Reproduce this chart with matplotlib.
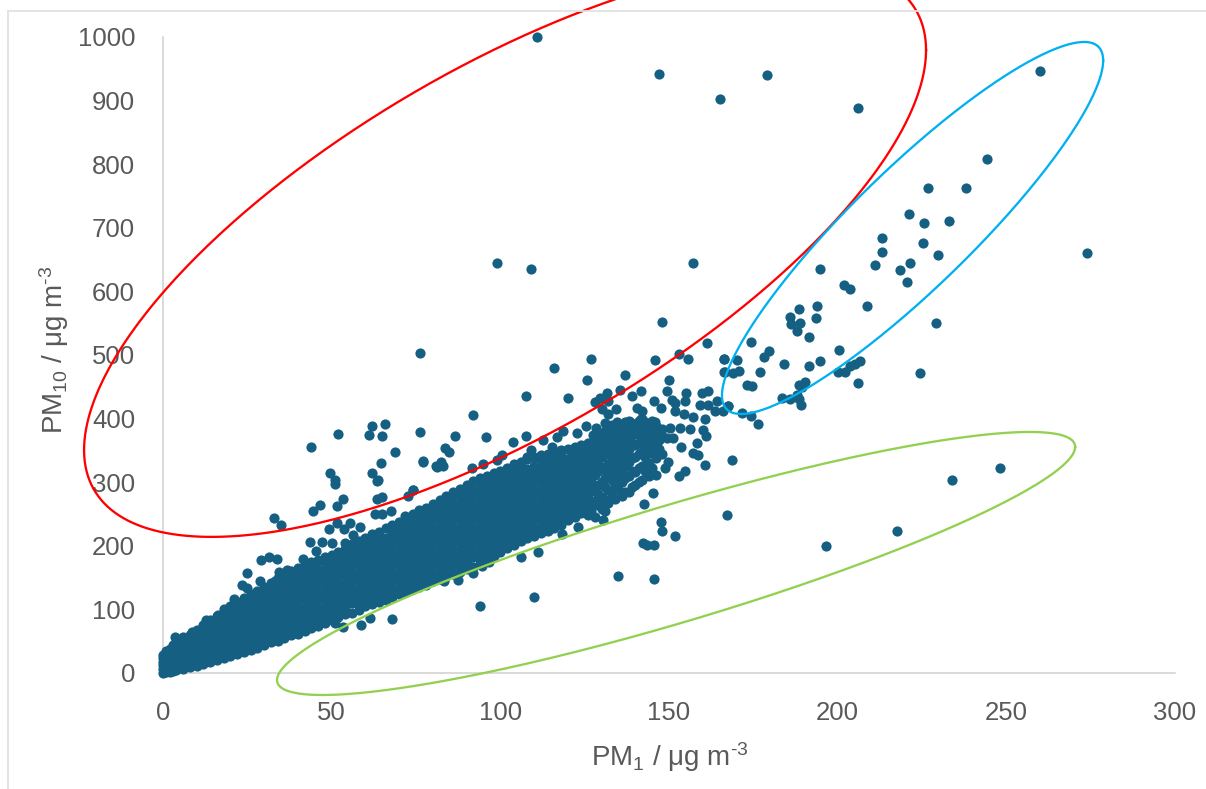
import numpy as np
import matplotlib
matplotlib.use("Agg")
import matplotlib.pyplot as plt
from matplotlib.lines import Line2D

plt.rcParams['font.family'] = ['Liberation Sans', 'DejaVu Sans']
plt.rcParams['mathtext.fontset'] = 'custom'
plt.rcParams['mathtext.rm'] = 'Liberation Sans'
plt.rcParams['mathtext.default'] = 'regular'

# Dense core of the cloud, read column by column: PM1 value -> PM10 values
core = {
0:[0,6,12,18,24,28],1:[1,8,15,22,30,35],2:[2,14,26,38],3:[3,8,20,32,44],4:[4,14,26,38,48],
6:[6,18,30,42,55],8:[9,21,33,45,57,60],10:[11,16,28,40,52,64,68],12:[14,24,36,48,60,72,75],
14:[17,30,42,54,66,78,83],16:[20,25,37,49,61,73,85,90],18:[23,33,45,57,69,81,93,100],
20:[26,39,51,63,75,87,99,106],22:[30,35,47,59,71,83,95,107,112],24:[33,43,55,67,79,91,103,115,118],
26:[36,49,61,73,85,97,109,121,124],28:[39,45,57,69,81,93,105,117,129],30:[44,54,66,78,90,102,114,126,136],
32:[48,60,72,84,96,108,120,132,142],34:[51,57,69,81,93,105,117,129,141,150],36:[55,65,77,89,101,113,125,137,149,156],
38:[59,71,83,95,107,119,131,143,155,160],40:[62,68,80,92,104,116,128,140,152,165],42:[66,78,90,102,114,126,138,150,162,170],
44:[70,84,96,108,120,132,144,156,168,174],46:[74,80,92,104,116,128,140,152,164,178],48:[79,90,102,114,126,138,150,162,174,182],
50:[83,96,108,120,132,144,156,168,180,186],52:[88,94,106,118,130,142,154,166,178,190],54:[92,104,116,128,140,152,164,176,188,195],
56:[95,110,122,134,146,158,170,182,194,203],58:[99,108,120,132,144,156,168,180,192,204,208],60:[105,116,128,140,152,164,176,188,200,213],
62:[109,122,134,146,158,170,182,194,206,218],64:[112,120,132,144,156,168,180,192,204,216,222],66:[115,128,140,152,164,176,188,200,212,228],
68:[120,134,146,158,170,182,194,206,218,232],70:[124,132,144,156,168,180,192,204,216,228,238],72:[128,140,152,164,176,188,200,212,224,236,243],
74:[132,146,158,170,182,194,206,218,230,242,250],76:[136,144,156,168,180,192,204,216,228,240,252,256],78:[139,152,164,176,188,200,212,224,236,248,260],
80:[144,158,170,182,194,206,218,230,242,254,266],82:[148,156,168,180,192,204,216,228,240,252,264,272],84:[152,164,176,188,200,212,224,236,248,260,272,278],
86:[155,170,182,194,206,218,230,242,254,266,278,284],88:[159,168,180,192,204,216,228,240,252,264,276,290],90:[163,176,188,200,212,224,236,248,260,272,284,296],
92:[167,182,194,206,218,230,242,254,266,278,290,302],94:[172,180,192,204,216,228,240,252,264,276,288,300,306],96:[177,188,200,212,224,236,248,260,272,284,296,310],
98:[184,194,206,218,230,242,254,266,278,290,302,314],100:[190,200,212,224,236,248,260,272,284,296,308,318],102:[196,206,218,230,242,254,266,278,290,302,314,322],
104:[202,212,224,236,248,260,272,284,296,308,320,328],106:[208,218,230,242,254,266,278,290,302,314,326,332],108:[212,224,236,248,260,272,284,296,308,320,336],
110:[216,230,242,254,266,278,290,302,314,326,340],112:[220,228,240,252,264,276,288,300,312,324,336,342],114:[224,236,248,260,272,284,296,308,320,332,345],
116:[228,242,254,266,278,290,302,314,326,338,348],118:[233,246,258,270,282,294,306,318,330,342,350],120:[240,252,264,276,288,300,312,324,336,352],
122:[246,262,276,290,304,316,330,344,355],124:[252,268,284,298,318,334,350,358],126:[248,262,280,306,326,342,362],
128:[246,270,290,312,332,350,368],130:[258,276,300,320,340,358,375],132:[268,288,310,328,350,368,384],134:[274,296,322,344,360,378],
136:[278,300,316,338,356,372,388],138:[285,310,332,352,368,382,396],140:[296,316,340,358,376,392],142:[303,326,348,366,384,400],
144:[310,330,352,372,390],146:[312,338,360,378,388],148:[345,372,384],
# second pass over the tail of the cloud
121:[246,258,271,283,296,309,322,338,349],123:[256,272,288,302,311,325,340,352],125:[258,275,292,312,328,346,356],
127:[254,268,286,300,320,338,356],129:[264,282,296,318,328,344,362],131:[272,292,306,324,344,354,370,380],
133:[282,304,318,336,356,372,390],135:[290,308,330,350,366,384],137:[284,306,326,346,362,378,394],
139:[292,318,338,360,374,390],141:[300,322,344,362,380,396],143:[318,340,358,376,394],145:[322,346,366,384,396],147:[352,366,380],
}

# Individually readable points
outlier_pm1 = [111,147,179,165,206,260,274,244.3,226.8,238,99,109,157,221,225.6,233,213,213,225.4,229.8,211,221.5,218.5,220.5,194.8,201.9,203.7,208.7,229.2,193.9,188.6,193.6,185.9,188.9,186.2,188,191.5,174.3,161.3,200.4,179.7,178.2,166.3,170.2,194.8,184.1,191.5,206.6,205.2,203.7,202.2,200.1,177,170.8,169,166.3,224.4,206,190.3,188.6,189.4,173.1,174.6,183.5,185.9,188,188.6,189.2,167.5,171.7,174.3,176.4,148,
76.3,126.8,145.9,153.1,155.5,166.4,115.9,136.9,125.6,150,166.6,135.5,149.3,141.6,107.5,120.1,139.1,155,159.7,161.7,131.5,129.5,128,132,145.7,147.6,150.8,151.8,151.8,154.7,154.4,157.2,159.2,161.7,164.1,163.6,166.1,167.6,160.7,130,131.8,134.3,140.4,141.9,141.6,92,76.2,95.8,103.9,107.6,112.5,118.7,122.6,125.4,128.5,127.6,131,134.5,138.4,145.9,150.3,153.3,156.2,160.2,161,158.2,153.7,151.3,149.3,157.2,158.7,168.6,160.7,154.8,153,149.8,148.8,83.6,84.8,77.1,82.3,81.1,82.9,91.7,94.8,100.4,98.9,107.8,109,115.2,116.7,145.4,142.5,131,130.5,147.6,147.8,151.8,167.1,142.2,143.4,145.6,135,145.6,123,118.4,111.3,106.2,96.7,94.5,91.8,87.4,83.3,74,71.7,
33,35,51,63.3,53.3,51.6,44.6,46.5,64.8,63.3,74.2,72.7,62.8,64.8,67.5,51.5,55.4,49.1,53.8,58.4,56.4,43.6,47,50,54,45.5,29,31.4,33.8,41.4,24.8,28.8,23.3,33.2,34.5,36.7,24.8,31,27.6,53.5,51,58.7,61.4,67.8,3.6,5.8,12.7,8.5,16.4,20.9,
44,52,61,65.8,65,68.8,62,49.5,51,62,63.7,64.6,77,81,86.5,196.6,217.6,234,248,94,110]
outlier_pm10 = [1000,942,941,903,888,947,660,808,762,762,645,636,645,722,707,711,684,662,676,657,641,644,634,615,635,610,604,577,550,577,572,558,560,550,549,538,528,520,519,508,506,497,494,492,491,486,483,491,486,483,473,473,473,475,472,473,472,456,458,453,450,453,451,432,431,437,431,421,420,409,404,391,552,
503,494,492,501,493,493,480,468,460,460,474,445,444,443,436,433,436,440,441,444,440,432,426,428,428,417,430,424,412,428,407,402,421,421,427,412,412,420,400,415,407,415,416,412,400,405,379,371,363,373,366,381,378,389,386,375,393,394,395,394,386,386,383,382,373,362,355,369,369,346,342,335,327,318,309,331,322,353,347,334,332,324,325,323,329,343,335,340,351,356,371,283,266,255,241,238,223,216,248,204,202,202,153,148,230,219,191,182,175,168,158,146,144,288,247,
244,233,297,302,274,262,255,264,277,273,288,279,250,250,255,236,236,227,226,229,217,206,206,204,204,192,178,182,179,180,157,145,138,145,159,162,133,129,123,73,79,76,86,85,56,57,83,64,91,117,
355,376,374,391,372,347,389,314,303,314,303,330,332,325,372,200,223,303,322,106,120]

# Hand-drawn ellipses: centre, half extents and tilt in data units
ell_red = dict(cx=101.4, cy=665, hx=124.8, hy=451, rho=0.697, color='#FF0000')
ell_blue = dict(cx=222.2, cy=699.7, hx=56.5, hy=292.5, rho=0.90, color='#00B0F0')
ell_green = dict(cx=152.1, cy=172.2, hx=118.3, hy=206.8, rho=0.886, color='#92D050')

x_ticks = [0, 50, 100, 150, 200, 250, 300]
y_ticks = [0, 100, 200, 300, 400, 500, 600, 700, 800, 900, 1000]

TXT = '#595959'
W, H = 1206, 789
fig = plt.figure(figsize=(W / 100, H / 100), dpi=100, facecolor='white')
ax = fig.add_axes([163 / W, (H - 673) / H, (1175 - 163) / W, (673 - 37) / H])
ax.set_xlim(0, 300)
ax.set_ylim(0, 1000)

core_x = [k for k, v in core.items() for _ in v]
core_y = [y for v in core.values() for y in v]
ax.scatter(core_x + outlier_pm1, core_y + outlier_pm10, s=54, color='#156082',
           linewidths=0, clip_on=False, zorder=3)

t = np.linspace(0, 2 * np.pi, 500)
for e in (ell_red, ell_blue, ell_green):
    d = np.arccos(e['rho'])
    ax.plot(e['cx'] + e['hx'] * np.cos(t), e['cy'] + e['hy'] * np.cos(t - d),
            color=e['color'], lw=1.65, clip_on=False, zorder=4)

for s in ('top', 'right'):
    ax.spines[s].set_visible(False)
for s in ('left', 'bottom'):
    ax.spines[s].set_color('#D0D0D0')
    ax.spines[s].set_linewidth(1.1)
ax.set_xticks(x_ticks)
ax.set_yticks(y_ticks)
ax.tick_params(axis='y', length=0, pad=20, labelsize=18.5, labelcolor=TXT)
ax.tick_params(axis='x', length=0, pad=20, labelsize=18.5, labelcolor=TXT)

ax.set_xlabel(r'PM$_{1}$ / μg m$^{\text{-}3}$', fontsize=20, color=TXT)
ax.set_ylabel(r'PM$_{10}$ / μg m$^{\text{-}3}$', fontsize=20, color=TXT)
ax.xaxis.set_label_coords(0.501, -0.132)
ax.yaxis.set_label_coords(-0.1077, 0.508)
ax.xaxis.label.set_va('center')
ax.yaxis.label.set_va('center')

fig.add_artist(Line2D([8 / W, 8 / W], [0, (H - 11) / H], color='#E2E2E2', lw=1.3))
fig.add_artist(Line2D([8 / W, 1], [(H - 11) / H, (H - 11) / H], color='#E2E2E2', lw=1.3))

fig.savefig('out.png', dpi=100)
